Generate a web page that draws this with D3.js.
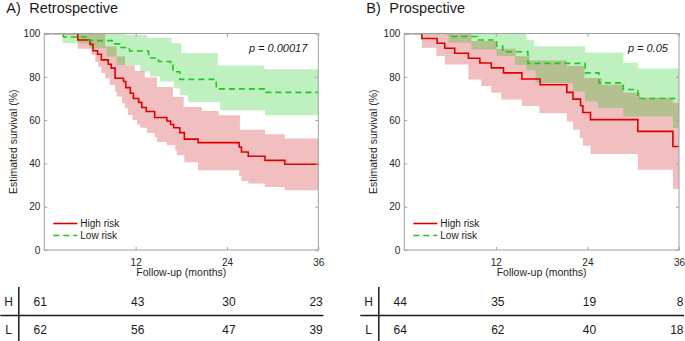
<!DOCTYPE html>
<html>
<head>
<meta charset="utf-8">
<script src="https://cdn.jsdelivr.net/npm/d3@7"></script>
<style>
  body{margin:0;background:#fff;}
  svg{display:block;font-family:"Liberation Sans",Arial,Helvetica,sans-serif;}
  .axis path{display:none;}
  .axis line{stroke:#a0a0a0;}
  .axis text{fill:#262626;font-size:10px;font-family:"Liberation Sans",Arial,sans-serif;}
</style>
</head>
<body>
<svg id="chart" width="685" height="341"></svg>
<script>

//tick labels
var xTicks = [12,24,36];
var yTicks = [0,20,40,60,80,100];
var riskTimes = [0,12,24,36];

//A) retrospective : [months, survival %]
var retroHigh = [[0,100],[4.4,97],[6.0,95],[6.4,92],[7.0,90.4],[7.5,87.8],[8.4,85.8],[8.8,84],[9.3,79.3],[10.4,77.8],[10.7,75],[11.3,72.4],[11.7,70],[12.4,68.2],[12.8,65.8],[13.4,64],[14.5,61.2],[16.1,59.6],[16.6,58],[17.0,56.5],[17.8,54.2],[18.4,51.2],[20.2,49.6],[25.6,47.6],[25.9,45.3],[26.8,43.3],[29.0,41.4],[31.6,39.6]];
var retroHighHi = [[4.4,100],[8.0,94],[9.5,89.4],[10.6,85.3],[11.9,82.7],[13.2,79.7],[14.8,75.3],[16.9,70.7],[18.3,66],[20.7,64.2],[22.9,62.2],[25.7,55.5],[29.0,53.5],[31.6,51.5]];
var retroHighLo = [[4.4,92.9],[6.2,90.1],[6.7,87],[7.1,84.7],[7.5,81.7],[8.0,79.3],[8.6,76.2],[9.3,73.2],[9.5,70.9],[10.2,67.8],[10.6,65.5],[11.0,62.4],[11.6,60],[12.2,58],[12.6,56.5],[13.5,54],[14.5,52.2],[14.8,49.9],[16.1,48.4],[17.2,46.1],[17.4,43.8],[18.4,40.5],[20.2,36.8],[25.6,34.2],[25.9,31.9],[26.8,30.7],[29.0,29.1],[31.6,27.6]];
var retroLow = [[0,100],[2.5,98.4],[5.8,96.7],[8.9,95.2],[9.9,93.5],[11.2,91.9],[13.7,88.7],[15.0,87.1],[16.6,85.5],[16.9,82.3],[17.8,78.8],[22.6,74.4],[28.9,72.8]];
var retroLowHi = [[2.4,100],[10.8,99.3],[13.5,98],[16.7,95.5],[18.0,91],[22.8,85.2],[28.9,83.5]];
var retroLowLo = [[2.4,95.5],[6.0,93.2],[8.2,89.4],[9.5,85.5],[12.6,82.4],[13.9,80.1],[15.2,77.8],[17.0,74.7],[17.8,71.5],[18.9,68.4],[23.1,64.6],[29.0,62.2]];
var retroRiskH = [61,43,30,23];
var retroRiskL = [62,56,47,39];

//B) prospective
var prosHigh = [[0,100],[2.3,97.7],[4.3,95.5],[5.3,93.2],[6.6,90.9],[8.4,88.6],[9.9,86.4],[11.4,84.1],[13.0,81.8],[15.4,79],[17.8,76.3],[21.3,72.8],[22.1,69.7],[23.1,66.6],[23.4,63.5],[24.4,60.2],[30.6,54.8],[35.2,47.8]];
var prosHighHi = [[2.3,100],[8.8,96.5],[12.1,93],[14.6,89.5],[16.4,87.5],[21.3,85],[23.6,79.5],[25.9,76.3],[28.7,72.6],[30.9,70.3],[35.2,68]];
var prosHighLo = [[2.3,93.4],[4.2,89.6],[5.3,85.7],[8.4,78.8],[10.1,75.7],[11.4,72.6],[12.7,69.5],[15.4,66.5],[17.7,63.2],[21.3,59.4],[22.1,55.5],[23.0,51.7],[23.4,48.2],[24.4,44.3],[30.6,37.1],[35.2,28.2]];
var prosLow = [[0,100],[6.0,98.6],[9.5,97.0],[12.1,94.2],[12.9,91.6],[16.2,86.2],[23.7,81.8],[25.5,77.2],[28.7,74.1],[30.6,70.0]];
var prosLowHi = [[5.8,100],[16.0,97],[17.0,94.1],[23.7,91.2],[28.7,86.5],[30.6,83.8]];
var prosLowLo = [[5.8,95.7],[8.8,92.6],[12.1,89.6],[14.5,85.5],[16.0,83],[17.2,77.1],[22.1,73.2],[23.7,68.6],[25.4,65.6],[28.7,61.7],[35.2,56.3]];
var prosRiskH = [44,35,19,8];
var prosRiskL = [64,62,40,18];

var W = 685, H = 341;
var tMax = 36;
var yTop = 33.5, yBottom = 250;
var red = '#dd0000', green = '#1ec81e';

var svg = d3.select('#chart');

//value of a step curve at time t
function stepAt(curve, t){
  var v = curve[0][1];
  for(var i=0;i<curve.length;i++){
    if(curve[i][0] <= t) v = curve[i][1];
  }
  return v;
}

//merge lower and upper bound onto the same times
function bandData(lo, hi){
  var times = lo.map(function(d){return d[0]}).concat(hi.map(function(d){return d[0]}));
  times = Array.from(new Set(times)).sort(function(a,b){return a-b});
  times.push(tMax);
  return times.map(function(t){return {t:t, lo:stepAt(lo,t), hi:stepAt(hi,t)}});
}

function lineData(curve){
  return curve.concat([[tMax, curve[curve.length-1][1]]]);
}

function drawPanel(p){

  //set scale
  var scaleX = d3.scaleLinear().domain([0,tMax]).range([p.x0,p.x1]);
  var scaleY = d3.scaleLinear().domain([0,100]).range([yBottom,yTop]);

  var g = svg.append('g');

  g.append('clipPath').attr('id','clip'+p.id)
    .append('rect')
    .attr('x',p.x0).attr('y',yTop)
    .attr('width',p.x1-p.x0).attr('height',yBottom-yTop);

  var area = d3.area()
      .curve(d3.curveStepAfter)
      .x(function(d){return scaleX(d.t)})
      .y0(function(d){return scaleY(d.lo)})
      .y1(function(d){return scaleY(d.hi)});

  var line = d3.line()
      .curve(d3.curveStepAfter)
      .x(function(d){return scaleX(d[0])})
      .y(function(d){return scaleY(d[1])});

  var plot = g.append('g').attr('clip-path','url(#clip'+p.id+')');

  //confidence bands
  plot.append('path')
      .datum(bandData(p.highLo,p.highHi))
      .attr('d',area)
      .attr('fill','#c80000')
      .attr('fill-opacity',0.25);

  plot.append('path')
      .datum(bandData(p.lowLo,p.lowHi))
      .attr('d',area)
      .attr('fill','#00c300')
      .attr('fill-opacity',0.25);

  //survival curves
  plot.append('path')
      .datum(lineData(p.high))
      .attr('d',line)
      .attr('fill','none')
      .attr('stroke',red)
      .attr('stroke-width',1.6);

  plot.append('path')
      .datum(lineData(p.low))
      .attr('d',line)
      .attr('fill','none')
      .attr('stroke',green)
      .attr('stroke-width',1.6)
      .attr('stroke-dasharray','6,4');

  //set axis
  g.append('g').attr('class','axis')
      .attr('transform','translate(0,'+yBottom+')')
      .call(d3.axisBottom(scaleX).tickValues(xTicks).tickSize(-3).tickPadding(9));
  g.append('g').attr('class','axis')
      .attr('transform','translate(0,'+yTop+')')
      .call(d3.axisTop(scaleX).tickValues(xTicks).tickSize(-3).tickFormat(''));
  g.append('g').attr('class','axis')
      .attr('transform','translate('+p.x0+',0)')
      .call(d3.axisLeft(scaleY).tickValues(yTicks).tickSize(-3).tickPadding(4));
  g.append('g').attr('class','axis')
      .attr('transform','translate('+p.x1+',0)')
      .call(d3.axisRight(scaleY).tickValues(yTicks).tickSize(-3).tickFormat(''));

  g.append('rect')
      .attr('x',p.x0).attr('y',yTop)
      .attr('width',p.x1-p.x0).attr('height',yBottom-yTop)
      .attr('fill','none')
      .attr('stroke','#a0a0a0');

  //titles and labels
  g.append('text').attr('x',p.x0-38).attr('y',12.5)
      .style('font-size','14.5px').attr('fill','#1a1a1a')
      .text(p.letter);
  g.append('text').attr('x',p.x0-15).attr('y',12.5)
      .style('font-size','14.5px').attr('fill','#1a1a1a')
      .text(p.title);

  g.append('text')
      .attr('transform','translate('+(p.x0-27.5)+','+((yTop+yBottom)/2)+') rotate(-90)')
      .attr('text-anchor','middle')
      .style('font-size','10.5px').attr('fill','#262626')
      .text('Estimated survival (%)');

  g.append('text')
      .attr('x',(p.x0+p.x1)/2).attr('y',276)
      .attr('text-anchor','middle')
      .style('font-size','10.5px').attr('fill','#262626')
      .text('Follow-up (months)');

  g.append('text')
      .attr('x',p.x1-11).attr('y',52)
      .attr('text-anchor','end')
      .style('font-size','11px').style('font-style','italic').attr('fill','#1a1a1a')
      .text(p.pText);

  //legend
  var legend = [{name:'High risk',color:red,dash:null},{name:'Low risk',color:green,dash:'6,4'}];
  legend.forEach(function(d,i){
    var ly = 223.5 + i*12;
    g.append('line')
        .attr('x1',p.x0+9).attr('x2',p.x0+33)
        .attr('y1',ly).attr('y2',ly)
        .attr('stroke',d.color).attr('stroke-width',1.6)
        .attr('stroke-dasharray',d.dash);
    g.append('text')
        .attr('x',p.x0+36).attr('y',ly).attr('dy','0.35em')
        .style('font-size','10px').attr('fill','#1a1a1a')
        .text(d.name);
  });

  //number at risk table
  var last = riskTimes.length-1;
  var tx = function(t,i){
    if(i===0) return scaleX(t)-4;
    if(i===last) return scaleX(t)+4.5;
    return scaleX(t)+2;
  };
  var rows = [{lab:'H',vals:p.riskH,y:306},{lab:'L',vals:p.riskL,y:334}];
  rows.forEach(function(r){
    g.append('text').attr('x',p.x0-35.6).attr('y',r.y)
        .attr('text-anchor','middle')
        .style('font-size','12px').attr('fill','#1a1a1a')
        .text(r.lab);
    g.selectAll(null)
        .data(riskTimes)
        .enter()
        .append('text')
        .attr('x',function(d,i){return tx(d,i)})
        .attr('y',r.y)
        .attr('text-anchor',function(d,i){return i===last ? 'end' : 'middle'})
        .style('font-size','12px').attr('fill','#1a1a1a')
        .text(function(d,i){return r.vals[i]});
  });
  g.append('line')
      .attr('x1',p.x0-25.5).attr('x2',p.x0-25.5)
      .attr('y1',287).attr('y2',H)
      .attr('stroke','#1a1a1a').attr('stroke-width',1.5);
  g.append('line')
      .attr('x1',p.x0-44).attr('x2',p.x1+5)
      .attr('y1',315.5).attr('y2',315.5)
      .attr('stroke','#1a1a1a').attr('stroke-width',1.5);
}

drawPanel({id:'A',x0:44.3,x1:318.3,letter:'A)',title:'Retrospective',pText:'p = 0.00017',
  high:retroHigh,highLo:retroHighLo,highHi:retroHighHi,
  low:retroLow,lowLo:retroLowLo,lowHi:retroLowHi,
  riskH:retroRiskH,riskL:retroRiskL});

drawPanel({id:'B',x0:404.3,x1:679,letter:'B)',title:'Prospective',pText:'p = 0.05',
  high:prosHigh,highLo:prosHighLo,highHi:prosHighHi,
  low:prosLow,lowLo:prosLowLo,lowHi:prosLowHi,
  riskH:prosRiskH,riskL:prosRiskL});

</script>
</body>
</html>
